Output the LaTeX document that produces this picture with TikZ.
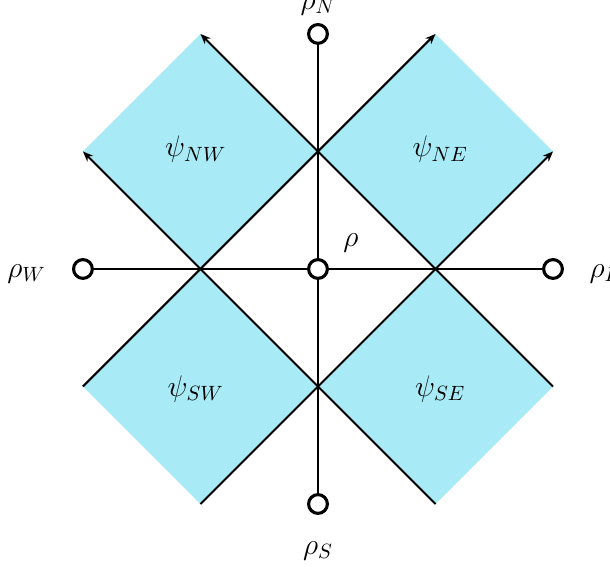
\documentclass[tikz,border=0pt]{standalone}
\usetikzlibrary{arrows.meta}
\definecolor{cellblue}{RGB}{168,234,246}

\begin{document}
\begin{tikzpicture}[x=2cm, y=2cm, >={Stealth[length=5pt,width=4pt]}, font=\Large,
  site/.style={draw, circle, line width=1.5pt, minimum size=0.32cm, inner sep=0pt, fill=white},
  diag/.style={line width=1pt, ->},
  axis/.style={line width=1.3pt}]
  \useasboundingbox (-2.706,-2.536) rectangle (2.485,2.289);
  % shaded cells
  \foreach \sx/\sy/\nm in {-1/1/NW, 1/1/NE, -1/-1/SW, 1/-1/SE} {
    \fill[cellblue] (\sx,\sy) +(-1,0) -- +(0,1) -- +(1,0) -- +(0,-1) -- cycle;
    \node (psi\nm) at (\sx*1.04,\sy*1.02) {$\psi_{\nm}$};
  }
  % ends of the characteristics
  \coordinate (pSW) at (-1,-2); \coordinate (pSE) at (1,-2);
  \coordinate (pWS) at (-2,-1); \coordinate (pES) at (2,-1);
  \coordinate (pWN) at (-2,1);  \coordinate (pEN) at (2,1);
  \coordinate (pNW) at (-1,2);  \coordinate (pNE) at (1,2);
  \draw[diag] (pSW) -- (pEN);
  \draw[diag] (pSE) -- (pWN);
  \draw[diag] (pWS) -- (pNE);
  \draw[diag] (pES) -- (pNW);
  % sites
  \node[site] (rho) at (0,0) {};
  \node[site] (rhoN) at (0,2) {};
  \node[site] (rhoS) at (0,-2) {};
  \node[site] (rhoW) at (-2,0) {};
  \node[site] (rhoE) at (2,0) {};
  \foreach \s in {N,S,W,E} \draw[axis] (rho) -- (rho\s);
  % labels
  \node (lrho) at (0.28,0.22) {$\rho$};
  \node (lN) at (0,2.24) {$\rho_N$};
  \node (lS) at (0,-2.40) {$\rho_S$};
  \node (lW) at (-2.48,-0.04) {$\rho_W$};
  \node (lE) at (2.45,-0.04) {$\rho_E$};
\end{tikzpicture}
\end{document}
